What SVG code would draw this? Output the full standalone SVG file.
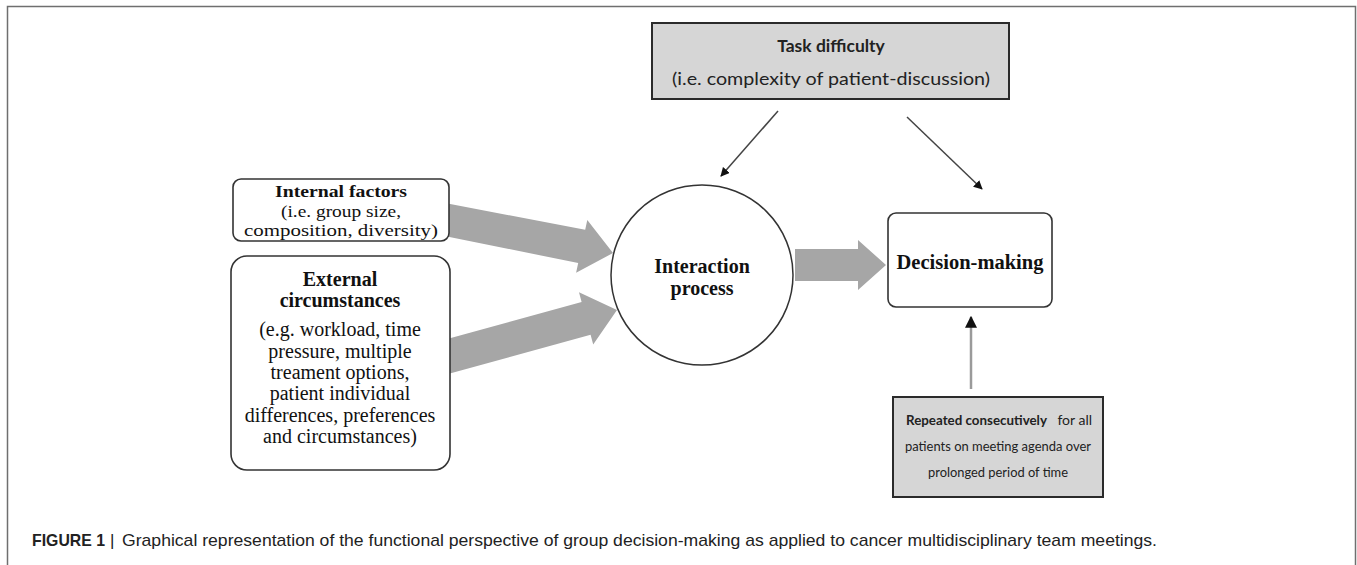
<svg xmlns="http://www.w3.org/2000/svg" width="1357" height="565" viewBox="0 0 1357 565">
<style>
.frame{fill:none;stroke:#6f6f6f;stroke-width:1.5}
.box{fill:#fff;stroke:#333;stroke-width:1.6}
.gbox{fill:#d6d6d6;stroke:#2b2b2b;stroke-width:2}
.serif{font-family:"Liberation Serif","Times New Roman",serif;font-size:20px;fill:#111;text-anchor:middle}
.b{font-weight:bold}
.sans{font-family:Lato,"Liberation Sans",sans-serif;font-size:17px;fill:#222;text-anchor:middle}
.rep{font-family:Lato,"Liberation Sans",sans-serif;font-size:14px;fill:#222}
.blk{fill:#a6a6a6}
.thin{stroke:#444;stroke-width:1.5;fill:none}
.cap{font-family:"Liberation Sans",Arial,sans-serif;font-size:17px;fill:#222}
</style>
<defs>
<marker id="ah" viewBox="0 0 10 10" refX="9" refY="5" markerWidth="9" markerHeight="9" markerUnits="userSpaceOnUse" orient="auto">
<path d="M0,0 L10,5 L0,10 z" fill="#111"/>
</marker>
<marker id="ah2" viewBox="0 0 10 10" refX="9" refY="5" markerWidth="12" markerHeight="12" markerUnits="userSpaceOnUse" orient="auto">
<path d="M0,0 L10,5 L0,10 z" fill="#111"/>
</marker>
</defs>
<rect class="frame" x="7.5" y="6.5" width="1348" height="620"/>
<g id="connectors">
<polygon class="blk" points="444.5,236 445,203 585.2,229.8 587.3,220 613,253 576.1,272.8 578.2,263"/>
<polygon class="blk" points="448,374 443.5,340 581.6,302 579,292.3 617,310 593.2,344.5 590.6,334.8"/>
<polygon class="blk" points="795,249 858,249 858,240 886,265 858,290 858,281 795,281"/>
<line class="thin" x1="778" y1="111" x2="721" y2="176" marker-end="url(#ah)"/>
<line class="thin" x1="907" y1="117" x2="982" y2="189" marker-end="url(#ah)"/>
<line x1="971" y1="389" x2="971" y2="317" stroke="#9a9a9a" stroke-width="2.5" marker-end="url(#ah2)"/>
</g>
<g id="task">
<rect class="gbox" x="652" y="23" width="357" height="76"/>
<text class="sans b" x="831" y="52" style="font-size:17.5px">Task difficulty</text>
<text class="sans" x="831" y="85" style="font-size:18px" textLength="318" lengthAdjust="spacingAndGlyphs">(i.e. complexity of patient-discussion)</text>
</g>
<g id="internal">
<rect class="box" x="233" y="179" width="216" height="62" rx="8"/>
<text class="serif b" x="341" y="197" style="font-size:17px" textLength="132" lengthAdjust="spacingAndGlyphs">Internal factors</text>
<text class="serif" x="341" y="216.5" style="font-size:17px" textLength="120" lengthAdjust="spacingAndGlyphs">(i.e. group size,</text>
<text class="serif" x="341" y="236" style="font-size:17px" textLength="194" lengthAdjust="spacingAndGlyphs">composition, diversity)</text>
</g>
<g id="external">
<rect class="box" x="231" y="256" width="219" height="214" rx="16"/>
<text class="serif b" x="340" y="286">External</text>
<text class="serif b" x="340" y="307">circumstances</text>
<text class="serif" x="340" y="336">(e.g. workload, time</text>
<text class="serif" x="340" y="358">pressure, multiple</text>
<text class="serif" x="340" y="379">treament options,</text>
<text class="serif" x="340" y="400">patient individual</text>
<text class="serif" x="340" y="422">differences, preferences</text>
<text class="serif" x="340" y="443">and circumstances)</text>
</g>
<g id="interaction">
<ellipse cx="702" cy="275" rx="91" ry="90" fill="#fff" stroke="#333" stroke-width="1.5"/>
<text class="serif b" x="702" y="273">Interaction</text>
<text class="serif b" x="702" y="295">process</text>
</g>
<g id="decision">
<rect class="box" x="888" y="213" width="164" height="94" rx="8"/>
<text class="serif b" x="970" y="269" style="font-size:20.5px">Decision-making</text>
</g>
<g id="repeated">
<rect class="gbox" x="893" y="397" width="210" height="100"/>
<text class="rep b" x="906" y="425" textLength="141" lengthAdjust="spacingAndGlyphs">Repeated consecutively</text>
<text class="rep" x="1092" y="425" text-anchor="end">for all</text>
<text class="rep" x="998" y="451" text-anchor="middle" textLength="186" lengthAdjust="spacingAndGlyphs">patients on meeting agenda over</text>
<text class="rep" x="998" y="477" text-anchor="middle" textLength="140" lengthAdjust="spacingAndGlyphs">prolonged period of time</text>
</g>
<g id="caption">
<text class="cap b" x="32" y="546" textLength="73" lengthAdjust="spacingAndGlyphs">FIGURE 1</text>
<text class="cap" x="110" y="546">|</text>
<text class="cap" x="122" y="546" textLength="1035" lengthAdjust="spacingAndGlyphs">Graphical representation of the functional perspective of group decision-making as applied to cancer multidisciplinary team meetings.</text>
</g>
</svg>
